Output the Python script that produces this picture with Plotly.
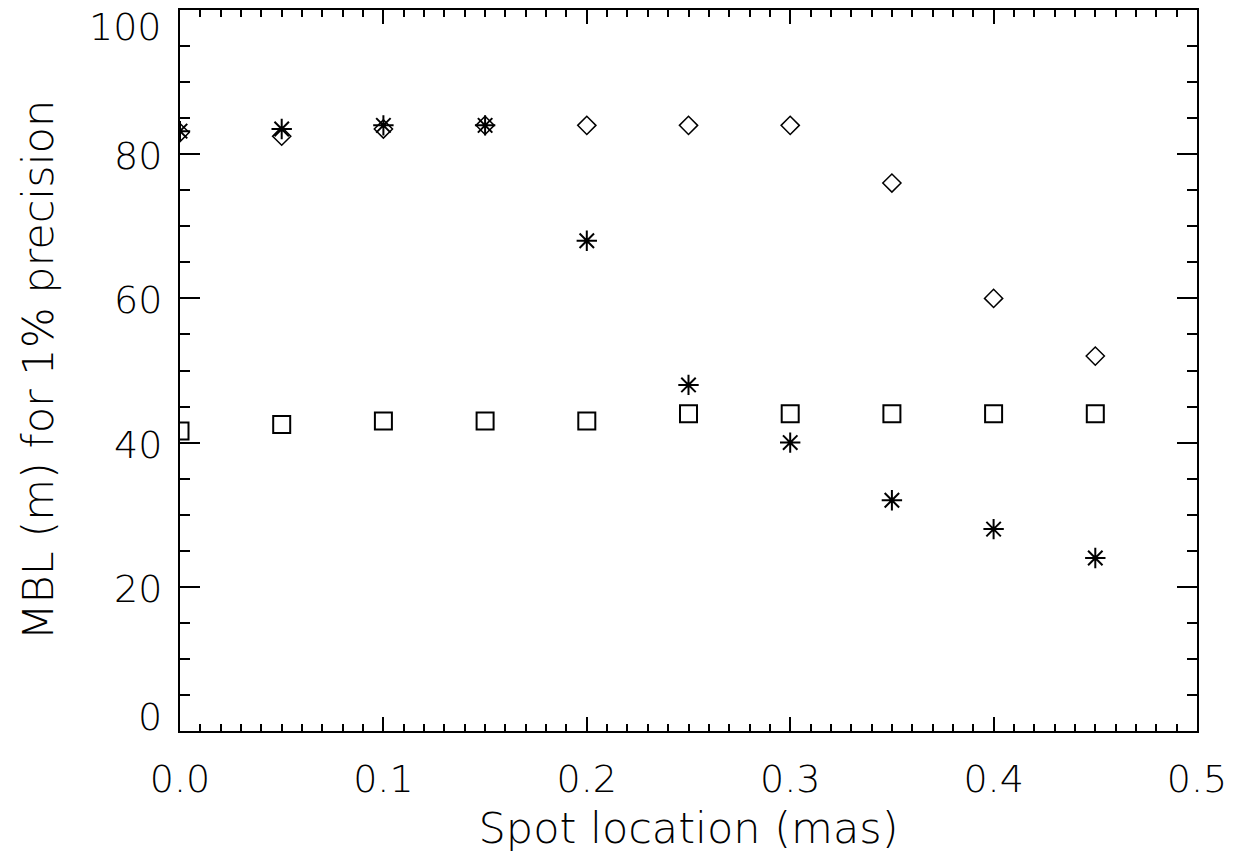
import plotly.graph_objects as go

spot = [0.0, 0.05, 0.10, 0.15, 0.20, 0.25, 0.30, 0.35, 0.40, 0.45]
diamond_vals = [83.0, 82.5, 83.5, 84.0, 84.0, 84.0, 84.0, 76.0, 60.0, 52.0]
asterisk_vals = [83.2, 83.5, 84.0, 84.0, 68.0, 48.0, 40.0, 32.0, 28.0, 24.0]
square_vals = [41.6, 42.5, 43.0, 43.0, 43.0, 44.0, 44.0, 44.0, 44.0, 44.0]

x_ticks = [0.0, 0.1, 0.2, 0.3, 0.4, 0.5]
x_labels = ["0.0", "0.1", "0.2", "0.3", "0.4", "0.5"]
y_ticks = [0, 20, 40, 60, 80, 100]
y_labels = ["0", "20", "40", "60", "80", "100"]
x_title = "Spot location (mas)"
y_title = "MBL (m) for 1% precision"

FONT = "DejaVu Sans"
FS = 38
TFS = 43
WEIGHT = 200

fig = go.Figure()
fig.add_trace(go.Scatter(x=spot, y=diamond_vals, mode="markers",
                         marker=dict(symbol="diamond-open", size=14, color="black",
                                     line=dict(width=1.5, color="black"))))
fig.add_trace(go.Scatter(x=spot, y=asterisk_vals, mode="markers",
                         marker=dict(symbol="asterisk-open", size=17, color="black",
                                     line=dict(width=2, color="black"))))
fig.add_trace(go.Scatter(x=spot, y=square_vals, mode="markers",
                         marker=dict(symbol="square-open", size=17, color="black",
                                     line=dict(width=2, color="black"))))

# y tick labels as annotations (IDL nudges the end labels inward)
for v, lab in zip(y_ticks, y_labels):
    shift = -2
    if v == y_ticks[0]:
        shift = 14
    elif v == y_ticks[-1]:
        shift = -17
    fig.add_annotation(x=0, xref="paper", y=v, yref="y", text=lab, showarrow=False,
                       xanchor="right", yanchor="middle", xshift=-16, yshift=shift,
                       font=dict(family=FONT, size=FS, color="black", weight=WEIGHT))

fig.add_annotation(x=0, xref="paper", y=0.5, yref="paper", text=y_title, showarrow=False,
                   textangle=-90, xanchor="center", yanchor="middle", xshift=-143,
                   font=dict(family=FONT, size=TFS, color="black", weight=WEIGHT))

fig.update_layout(
    width=1238, height=858,
    margin=dict(l=172, r=49, t=2, b=135),
    paper_bgcolor="white", plot_bgcolor="white",
    showlegend=False,
    font=dict(family=FONT, size=FS, color="black", weight=WEIGHT),
)
fig.update_xaxes(
    range=[0, 0.5], tickvals=x_ticks, ticktext=x_labels,
    showgrid=False, zeroline=False, automargin=False,
    showline=True, linecolor="black", linewidth=2, mirror="allticks",
    ticks="inside", ticklen=14, tickwidth=2, tickcolor="black",
    ticklabelstandoff=13, ticklabeloverflow="allow",
    minor=dict(dtick=0.01, ticks="inside", ticklen=7, tickwidth=2, tickcolor="black", showgrid=False),
    tickfont=dict(family=FONT, size=FS, color="black", weight=WEIGHT),
    title=dict(text=x_title, font=dict(family=FONT, size=TFS, color="black", weight=WEIGHT), standoff=13),
)
fig.update_yaxes(
    range=[0, 100], tickvals=y_ticks, showticklabels=False,
    showgrid=False, zeroline=False, automargin=False,
    showline=True, linecolor="black", linewidth=2, mirror="allticks",
    ticks="inside", ticklen=20, tickwidth=2, tickcolor="black",
    minor=dict(dtick=5, ticks="inside", ticklen=10, tickwidth=2, tickcolor="black", showgrid=False),
)

fig.write_html("out.html")
